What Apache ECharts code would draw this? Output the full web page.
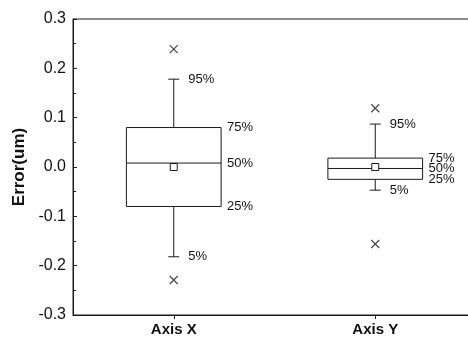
<!DOCTYPE html>
<html><head><meta charset="utf-8">
<script src="https://cdn.jsdelivr.net/npm/echarts@6/dist/echarts.min.js"></script>
<style>html,body{margin:0;padding:0;background:#fff}#c{width:468px;height:341px}</style>
</head><body><div id="c"></div>
<script>
var categories = ['Axis X', 'Axis Y'];
var p5 = [-0.182, -0.047];
var q1 = [-0.080, -0.025];
var median = [0.008, -0.003];
var q3 = [0.080, 0.018];
var p95 = [0.178, 0.087];
var mean = [0.0, 0.0];
var outlierMax = [0.239, 0.119];
var outlierMin = [-0.229, -0.156];
var pctLabels = ['5%', '25%', '50%', '75%', '95%'];
var yTicks = [-0.3, -0.2, -0.1, 0.0, 0.1, 0.2, 0.3];

var boxData = categories.map(function (c, i) {
  return [i, p5[i], q1[i], median[i], q3[i], p95[i], mean[i]];
});
var outData = [];
categories.forEach(function (c, i) {
  outData.push([i, outlierMax[i]]);
  outData.push([i, outlierMin[i]]);
});

var LC = '#1a1a1a';
var FONT = '13px "Liberation Sans", Arial, sans-serif';

function renderBox(params, api) {
  var idx = api.value(0);
  var xc = api.coord([idx, 0])[0];
  var band = api.size([1, 0])[0];
  var hw = band * 0.235;
  var cap = 5.5;
  var y5 = api.coord([idx, api.value(1)])[1];
  var y25 = api.coord([idx, api.value(2)])[1];
  var y50 = api.coord([idx, api.value(3)])[1];
  var y75 = api.coord([idx, api.value(4)])[1];
  var y95 = api.coord([idx, api.value(5)])[1];
  var ym = api.coord([idx, api.value(6)])[1];
  var ls = {stroke: LC, lineWidth: 1, fill: null};
  var ts = function (t, x, y) {
    return {type: 'text', style: {text: t, x: x, y: y, fill: '#111', font: FONT, verticalAlign: 'middle', align: 'left'}};
  };
  return {type: 'group', children: [
    {type: 'line', shape: {x1: xc, y1: y5, x2: xc, y2: y25}, style: ls},
    {type: 'line', shape: {x1: xc, y1: y75, x2: xc, y2: y95}, style: ls},
    {type: 'line', shape: {x1: xc - cap, y1: y5, x2: xc + cap, y2: y5}, style: ls},
    {type: 'line', shape: {x1: xc - cap, y1: y95, x2: xc + cap, y2: y95}, style: ls},
    {type: 'rect', shape: {x: xc - hw, y: y75, width: 2 * hw, height: y25 - y75}, style: {stroke: LC, lineWidth: 1, fill: null}},
    {type: 'line', shape: {x1: xc - hw, y1: y50, x2: xc + hw, y2: y50}, style: ls},
    {type: 'rect', shape: {x: xc - 3.5, y: ym - 3.5, width: 7, height: 7}, style: {stroke: LC, lineWidth: 1, fill: '#fff'}},
    ts(pctLabels[4], xc + cap + 9, y95),
    ts(pctLabels[0], xc + cap + 9, y5),
    ts(pctLabels[3], xc + hw + 6, y75),
    ts(pctLabels[2], xc + hw + 6, y50),
    ts(pctLabels[1], xc + hw + 6, y25)
  ]};
}

var chart = echarts.init(document.getElementById('c'), null, {renderer: 'canvas'});
chart.setOption({
  animation: false,
  backgroundColor: '#fff',
  grid: {left: 73, top: 19, width: 403, bottom: 26, outerBoundsMode: 'none', containLabel: false,
    show: true, borderColor: LC, borderWidth: 1, backgroundColor: 'transparent'},
  xAxis: {
    type: 'category', data: categories, boundaryGap: true,
    axisLine: {onZero: false, lineStyle: {color: LC, width: 1}},
    axisTick: {show: true, alignWithLabel: true, length: 4, inside: false, lineStyle: {color: LC}},
    axisLabel: {color: '#111', fontWeight: 'bold', fontSize: 15, fontFamily: '"Liberation Sans", Arial, sans-serif', margin: 7},
    splitLine: {show: false}
  },
  yAxis: {
    type: 'value', min: yTicks[0], max: yTicks[yTicks.length - 1], interval: 0.1,
    name: 'Error(um)', nameLocation: 'middle', nameGap: 45, nameRotate: 90,
    nameTextStyle: {color: '#111', fontWeight: 'bold', fontSize: 17, fontFamily: '"Liberation Sans", Arial, sans-serif'},
    axisLine: {show: true, lineStyle: {color: LC, width: 1}},
    axisTick: {show: true, inside: true, length: 4, lineStyle: {color: LC}},
    minorTick: {show: true, splitNumber: 2, length: 3, lineStyle: {color: LC}},
    axisLabel: {color: '#111', fontSize: 16, fontFamily: '"Liberation Sans", Arial, sans-serif', margin: 7,
      formatter: function (v) { return v.toFixed(1); }},
    splitLine: {show: false}
  },
  series: [
    {type: 'custom', data: boxData, renderItem: renderBox, encode: {x: 0, y: [1, 5]}, z: 3},
    {type: 'scatter', data: outData, symbol: 'path://M0,0L10,10M10,0L0,10', symbolSize: 8,
      itemStyle: {color: 'none', borderColor: LC, borderWidth: 1.2}, z: 4}
  ]
});
</script>
</body></html>
